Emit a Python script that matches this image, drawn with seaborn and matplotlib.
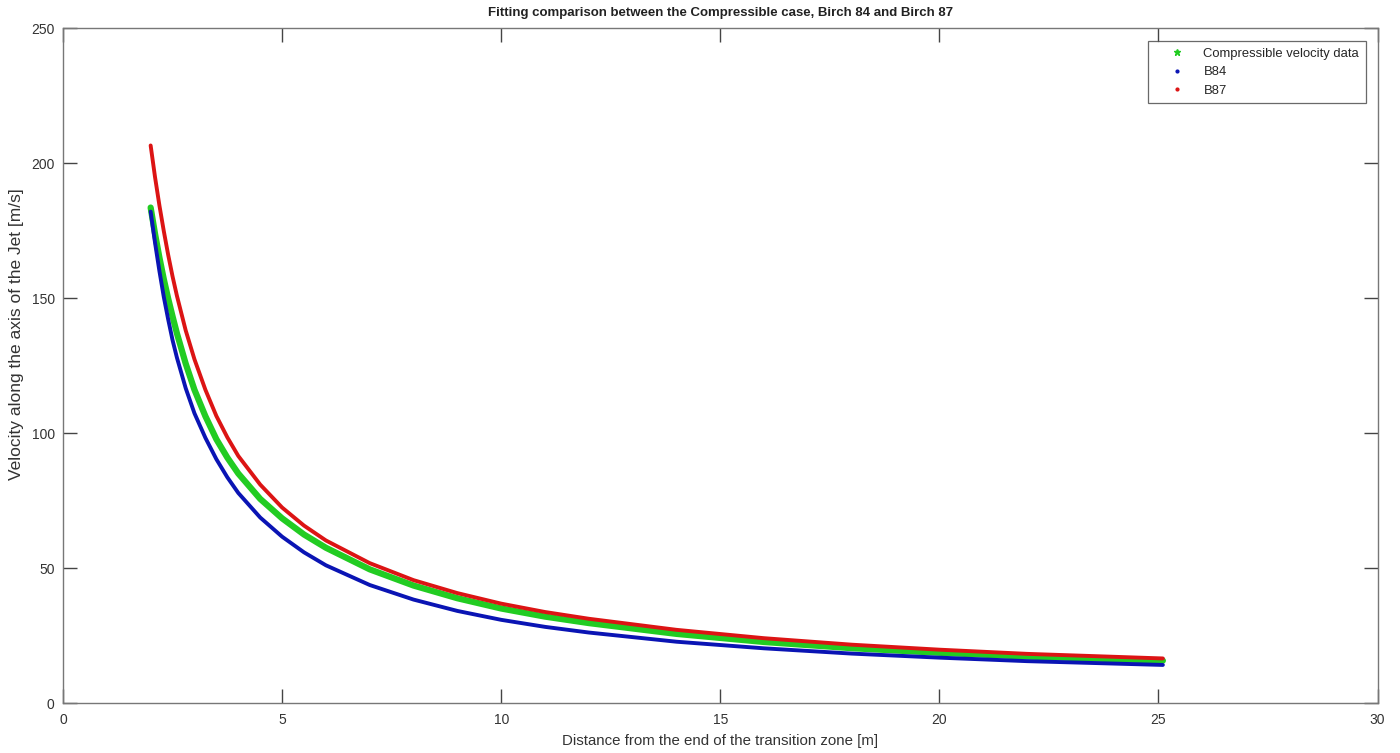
import matplotlib
matplotlib.use("Agg")
import matplotlib.pyplot as plt
import seaborn as sns
import pandas as pd
from matplotlib.lines import Line2D

# Distance from the end of the transition zone [m]
distance = [2.0, 2.1, 2.2, 2.3, 2.4, 2.5, 2.6, 2.8, 3.0, 3.25, 3.5, 3.75, 4.0,
            4.5, 5.0, 5.5, 6.0, 7.0, 8.0, 9.0, 10.0, 11.0, 12.0, 14.0, 16.0,
            18.0, 20.0, 22.0, 25.1]

# Velocity along the axis of the jet [m/s]
compressible = [183.5, 173.8, 165.0, 157.0, 149.8, 143.2, 136.9, 125.7, 116.0,
                106.2, 97.7, 90.9, 85.0, 75.6, 68.4, 62.4, 57.5, 49.5, 43.5,
                38.8, 35.0, 32.0, 29.6, 25.6, 22.6, 20.3, 18.6, 17.2, 15.7]
b84 = [182.0, 170.5, 160.0, 150.4, 142.1, 134.4, 127.9, 116.6, 107.3, 98.2,
       90.3, 83.6, 77.8, 68.7, 61.6, 55.8, 51.0, 43.7, 38.3, 34.1, 30.8, 28.2,
       26.1, 22.7, 20.25, 18.3, 16.8, 15.5, 14.1]
b87 = [206.5, 194.8, 184.3, 174.8, 166.0, 158.0, 150.8, 138.0, 127.3, 116.0,
       106.3, 98.4, 91.5, 80.9, 72.4, 65.7, 60.2, 51.8, 45.5, 40.7, 36.8, 33.7,
       31.2, 27.1, 24.0, 21.6, 19.75, 18.2, 16.5]

series_names = ["Compressible velocity data", "B84", "B87"]
series_colors = ["#22cc22", "#0a14b4", "#dc1414"]

sns.set_theme(style="white")
plt.rcParams["font.family"] = ["Liberation Sans", "DejaVu Sans"]

fig = plt.figure(figsize=(14, 7.53), dpi=100)
ax = fig.add_axes([0.045, 0.0664, 0.939, 0.8964])

df = pd.DataFrame({"x": distance * 3,
                   "v": compressible + b84 + b87,
                   "s": [series_names[0]] * len(distance)
                        + [series_names[1]] * len(distance)
                        + [series_names[2]] * len(distance)})

widths = [4.5, 2.8, 2.8]
for name, col, lw in zip(series_names, series_colors, widths):
    sub = df[df["s"] == name]
    sns.lineplot(data=sub, x="x", y="v", ax=ax, color=col, linewidth=lw,
                 legend=False, sort=True, estimator=None)

ax.set_xlim(0, 30)
ax.set_ylim(0, 250)
ax.set_xticks(range(0, 31, 5))
ax.set_yticks(range(0, 251, 50))
ax.tick_params(direction="in", length=10, width=1, color="#444444",
               labelsize=10, labelcolor="#333333", top=True, right=True,
               bottom=True, left=True, pad=6)
ax.tick_params(axis="x", pad=7)
for sp in ax.spines.values():
    sp.set_visible(True)
    sp.set_color("#777777")
    sp.set_linewidth(1.0)

ax.set_xlabel("Distance from the end of the transition zone [m]", fontsize=10.8,
              color="#333333", labelpad=5)
ax.set_ylabel("Velocity along the axis of the Jet [m/s]", fontsize=12.5,
              color="#333333")
ax.yaxis.set_label_coords(-0.0297, 0.547)
ax.set_title("Fitting comparison between the Compressible case, Birch 84 and Birch 87",
             fontsize=9.5, fontweight="bold", color="#222222", pad=9)

handles = [Line2D([], [], linestyle="none", marker="*", markersize=5, color=series_colors[0]),
           Line2D([], [], linestyle="none", marker=".", markersize=4, color=series_colors[1]),
           Line2D([], [], linestyle="none", marker=".", markersize=4, color=series_colors[2])]
leg = ax.legend(handles, series_names, loc="upper right", bbox_to_anchor=(0.991, 0.981),
                fontsize=9.4, frameon=True, fancybox=False, edgecolor="#444444",
                borderpad=0.5, handletextpad=0.35, labelspacing=0.5, handlelength=3.4,
                borderaxespad=0.0)
leg.get_frame().set_linewidth(0.9)

fig.savefig("out.png", dpi=100, facecolor="white")
